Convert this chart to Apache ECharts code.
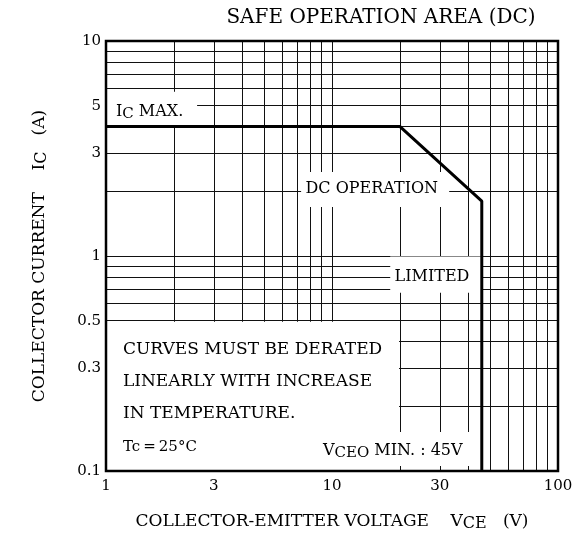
<!DOCTYPE html>
<html><head><meta charset="utf-8">
<script src="https://cdn.jsdelivr.net/npm/echarts@6/dist/echarts.min.js"></script>
<style>html,body{margin:0;padding:0;background:#fff}#c{width:580px;height:535px}</style>
</head><body><div id="c"></div>
<script>
// ---- data ----
const xGridValues = [1,2,3,4,5,6,7,8,9,10,20,30,40,50,60,70,80,90,100];
const yGridValues = [0.1,0.2,0.3,0.4,0.5,0.6,0.7,0.8,0.9,1,2,3,4,5,6,7,8,9,10];
const xTickLabels = [1,3,10,30,100];
const yTickLabels = [0.1,0.3,0.5,1,3,5,10];
const soaVoltage = [1, 20, 46, 46];
const soaCurrent = [4, 4, 1.8, 0.1];

const F = 'DejaVu Serif';
const chart = echarts.init(document.getElementById('c'));
const txt = (size) => ({fontFamily: F, fontSize: size, color: '#000'});
const richSub = (main, sub) => ({
  m: Object.assign(txt(main), {lineHeight: 20}),
  s: Object.assign(txt(sub), {lineHeight: 12, verticalAlign: 'bottom'})
});
const whiteBox = (a, b) => [{coord: a}, {coord: b}];
const note = (coord, text, size, align) => ({
  coord: coord, symbolSize: 0,
  label: {show: true, position: [0, 0], align: align || 'left', verticalAlign: 'middle',
    formatter: text, fontFamily: F, fontSize: size, color: '#000', rich: richSub(size, size - 1)}
});

const option = {
  animation: false,
  backgroundColor: '#fff',
  grid: {left: 106, right: 22, top: 41, bottom: 64, outerBoundsMode: 'none', containLabel: false},
  xAxis: {
    type: 'log', logBase: 10, min: 1, max: 100,
    name: '{m|COLLECTOR-EMITTER VOLTAGE    V}{s|CE}{m|   (V)}',
    nameLocation: 'middle', nameGap: 41,
    nameTextStyle: {rich: richSub(17, 16)},
    axisLine: {show: false},
    axisTick: {show: false, customValues: xGridValues},
    axisLabel: {customValues: xTickLabels, margin: 8, fontFamily: F, fontSize: 15, color: '#000',
      formatter: v => String(v)},
    splitLine: {show: true, lineStyle: {color: '#111', width: 1}},
    minorSplitLine: {show: false}
  },
  yAxis: {
    type: 'log', logBase: 10, min: 0.1, max: 10,
    name: '{m|COLLECTOR CURRENT    I}{s|C}{m|   (A)}',
    nameLocation: 'middle', nameGap: 56, nameRotate: 90,
    nameTextStyle: {rich: richSub(17, 16)},
    axisLine: {show: false},
    axisTick: {show: false, customValues: yGridValues},
    axisLabel: {customValues: yTickLabels, margin: 5, fontFamily: F, fontSize: 15, color: '#000',
      formatter: v => String(v)},
    splitLine: {show: true, lineStyle: {color: '#111', width: 1}}
  },
  series: [
    {
      name: 'boxes', type: 'line', data: [], z: 1, silent: true,
      markArea: {
        silent: true,
        itemStyle: {color: '#fff', borderWidth: 0},
        data: [
          whiteBox([1, 4.05], [2.53, 5.8]),
          whiteBox([7.3, 1.69], [33, 2.46]),
          whiteBox([18.1, 0.675], [46, 0.995]),
          whiteBox([8, 0.1055], [44.5, 0.152]),
          whiteBox([1, 0.1], [19.8, 0.495])
        ]
      },
      markPoint: {
        silent: true, symbol: 'circle', symbolSize: 0,
        data: [
          note([1.107, 4.68], '{m|I}{s|C}{m| MAX.}', 16),
          note([15, 2.05], 'DC OPERATION', 16, 'center'),
          note([27.7, 0.80], 'LIMITED', 16, 'center'),
          note([9.12, 0.124], '{m|V}{s|CEO}{m| MIN. : 45V}', 16),
          note([1.189, 0.3666], 'CURVES MUST BE DERATED', 17),
          note([1.189, 0.2594], 'LINEARLY WITH INCREASE', 17),
          note([1.189, 0.185], 'IN TEMPERATURE.', 17),
          note([1.189, 0.1294], 'Tc\u2009=\u200925°C', 15)
        ]
      }
    },
    {
      name: 'SOA', type: 'line', z: 3, symbol: 'none', silent: true,
      data: soaVoltage.map((v, i) => [v, soaCurrent[i]]),
      lineStyle: {color: '#000', width: 3}
    }
  ]
};
chart.setOption(option);
const p0 = chart.convertToPixel({gridIndex: 0}, [1, 0.1]);
const p1 = chart.convertToPixel({gridIndex: 0}, [100, 10]);
chart.setOption({graphic: [
  {type: 'rect', z: 100, silent: true,
   shape: {x: p0[0], y: p1[1], width: p1[0] - p0[0], height: p0[1] - p1[1]},
   style: {fill: 'none', stroke: '#000', lineWidth: 2.5}},
  {type: 'text', z: 100, x: 381, y: 18, silent: true,
   style: {text: 'SAFE OPERATION AREA (DC)', align: 'center', verticalAlign: 'middle',
     font: '20px "DejaVu Serif"', fill: '#000'}}
]});
</script></body></html>
